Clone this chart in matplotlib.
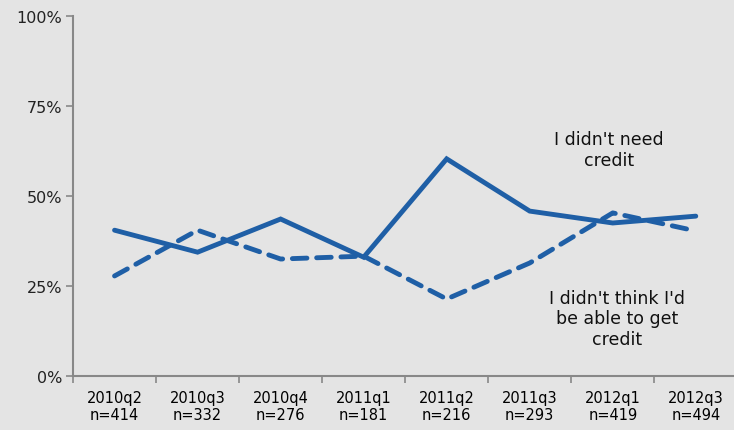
import matplotlib
matplotlib.use("Agg")
import matplotlib.pyplot as plt
import numpy as np

# data
quarters = ["2010q2", "2010q3", "2010q4", "2011q1", "2011q2", "2011q3", "2012q1", "2012q3"]
sizes = [414, 332, 276, 181, 216, 293, 419, 494]
no_need = [40.5, 34.4, 43.6, 33.0, 60.3, 45.8, 42.5, 44.4]
not_able = [27.8, 40.5, 32.5, 33.3, 21.4, 31.4, 45.3, 40.3]

blue = "#1f5fa6"
bg = "#e4e4e4"

fig = plt.figure(figsize=(7.34, 4.31), dpi=100)
fig.patch.set_facecolor(bg)
ax = fig.add_axes([0.0995, 0.125, 0.905, 0.836])
ax.set_facecolor("none")

x = np.arange(len(quarters)) + 0.5
ax.plot(x, no_need, color=blue, lw=3.5, solid_capstyle="round", solid_joinstyle="miter")
ax.plot(x, not_able, color=blue, lw=3.5, ls=(0, (3.0, 2.0)), dash_capstyle="round")

ax.set_xlim(0, len(quarters))
ax.set_ylim(0, 100)
ax.set_yticks([0, 25, 50, 75, 100])
ax.set_yticklabels(["0%", "25%", "50%", "75%", "100%"])
ax.set_xticks(np.arange(len(quarters) + 1))
ax.set_xticklabels([])
ax.set_xticks(x, minor=True)
ax.set_xticklabels([q + "\nn=" + str(n) for q, n in zip(quarters, sizes)], minor=True)
ax.tick_params(axis="x", which="minor", length=0, pad=10)
ax.tick_params(axis="x", which="major", length=5, color="#888888", width=1.2)
ax.tick_params(axis="y", length=5, color="#888888", width=1.2, pad=3)
ax.tick_params(labelsize=11.5, labelcolor="#222222")
for lab in ax.get_xticklabels(minor=True):
    lab.set_fontsize(10.5)
    lab.set_linespacing(1.15)

for s in ["top", "right"]:
    ax.spines[s].set_visible(False)
for s in ["left", "bottom"]:
    ax.spines[s].set_color("#888888")
    ax.spines[s].set_linewidth(1.5)

ax.text(6.45, 63, "I didn't need\ncredit", ha="center", va="center", fontsize=12.5,
        color="#111111", linespacing=1.2)
ax.text(6.55, 16, "I didn't think I'd\nbe able to get\ncredit", ha="center", va="center",
        fontsize=12.5, color="#111111", linespacing=1.2)

fig.savefig("out.png", dpi=100, facecolor=bg)
